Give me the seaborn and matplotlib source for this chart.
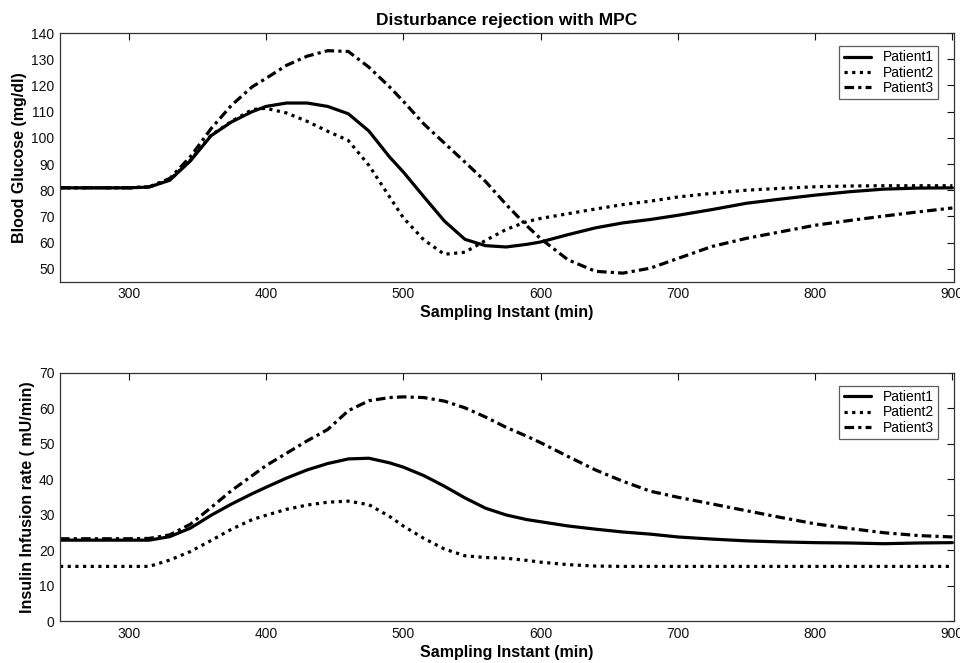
import pandas as pd
import matplotlib
matplotlib.use("Agg")
import matplotlib.pyplot as plt
import seaborn as sns

# sampling instants (min), shared by all series
t = [250, 300, 315, 330, 345, 360, 375, 390, 400, 415, 430, 445, 460, 475, 490,
     500, 515, 530, 545, 560, 575, 590, 600, 620, 640, 660, 680, 700, 725, 750,
     775, 800, 825, 850, 875, 900]

# blood glucose (mg/dl)
bg_p1 = [80.9, 80.9, 81.2, 83.8, 91.2, 100.8, 106.1, 110.0, 112.0, 113.3, 113.3, 112.0,
         109.2, 102.6, 92.7, 87.0, 77.5, 68.2, 61.2, 58.8, 58.3, 59.3, 60.2, 63.0, 65.6,
         67.5, 68.8, 70.4, 72.6, 75.0, 76.6, 78.1, 79.4, 80.4, 80.8, 80.9]
bg_p2 = [80.9, 80.9, 81.2, 84.0, 91.5, 101.0, 106.3, 110.8, 111.3, 109.5, 106.3, 102.5,
         99.0, 89.5, 77.5, 69.5, 61.0, 55.5, 56.3, 60.8, 65.0, 68.0, 69.2, 71.0, 72.8,
         74.5, 75.8, 77.4, 78.8, 80.0, 80.7, 81.3, 81.6, 81.7, 81.7, 81.7]
bg_p3 = [80.9, 80.9, 81.3, 84.5, 92.8, 103.5, 112.5, 119.5, 122.7, 127.7, 131.2, 133.3,
         133.0, 127.0, 119.5, 114.0, 105.3, 98.0, 90.7, 83.3, 74.5, 66.4, 61.5, 53.4, 49.0,
         48.3, 50.2, 53.9, 58.5, 61.6, 64.1, 66.6, 68.4, 70.1, 71.7, 73.2]

# insulin infusion rate (mU/min)
ir_p1 = [22.8, 22.8, 22.8, 23.8, 26.2, 29.8, 33.0, 35.9, 37.7, 40.3, 42.6, 44.4,
         45.7, 45.9, 44.6, 43.4, 41.0, 38.0, 34.7, 31.8, 29.9, 28.6, 28.0, 26.8, 25.9,
         25.1, 24.5, 23.7, 23.1, 22.6, 22.3, 22.1, 22.0, 21.8, 22.0, 22.1]
ir_p2 = [15.4, 15.4, 15.4, 17.2, 19.6, 22.7, 25.9, 28.6, 29.8, 31.5, 32.7, 33.5,
         33.8, 32.8, 29.5, 26.8, 23.3, 20.3, 18.4, 17.9, 17.7, 17.1, 16.6, 15.9, 15.5,
         15.4, 15.4, 15.4, 15.4, 15.4, 15.4, 15.4, 15.4, 15.4, 15.4, 15.4]
ir_p3 = [23.2, 23.2, 23.3, 24.3, 27.3, 32.0, 36.8, 41.0, 43.8, 47.3, 50.8, 54.0,
         59.3, 62.1, 63.0, 63.2, 63.0, 62.0, 60.1, 57.5, 54.6, 52.1, 50.3, 46.4, 42.6,
         39.4, 36.6, 34.9, 33.0, 31.1, 29.2, 27.4, 26.1, 24.9, 24.1, 23.7]

patients = ["Patient1", "Patient2", "Patient3"]
styles = {"Patient1": "",
          "Patient2": (1, 1.4),
          "Patient3": (3, 1.3, 1, 1.3)}

sns.set_style("white")
plt.rcParams["font.family"] = ["Liberation Sans", "DejaVu Sans"]
plt.rcParams["text.color"] = "black"
plt.rcParams["axes.labelcolor"] = "black"

fig = plt.figure(figsize=(9.6, 6.63), dpi=100)
ax1 = fig.add_axes([0.0625, 0.575, 0.931, 0.375])
ax2 = fig.add_axes([0.0625, 0.0633, 0.931, 0.3745])


def draw(ax, series, ylabel, ylim, yticks):
    df = pd.DataFrame({"t": t * 3,
                       "v": series[0] + series[1] + series[2],
                       "Patient": [p for p in patients for _ in t]})
    sns.lineplot(data=df, x="t", y="v", style="Patient", dashes=styles,
                 color="black", linewidth=2.3, ax=ax, legend=True)
    ax.set_xlim(250, 901)
    ax.set_ylim(*ylim)
    ax.set_xticks([300, 400, 500, 600, 700, 800, 900])
    ax.set_yticks(yticks)
    ax.tick_params(direction="in", top=True, right=True, length=5, width=0.8,
                   labelsize=10, colors="#111111", pad=4)
    for s in ax.spines.values():
        s.set_color("#333333")
        s.set_linewidth(0.9)
    ax.set_xlabel("Sampling Instant (min)", fontsize=11.5, fontweight="bold", labelpad=3)
    ax.set_ylabel(ylabel, fontsize=11.5, fontweight="bold", labelpad=3)
    leg = ax.legend(loc="upper right", fontsize=10, frameon=True, fancybox=False,
                    borderpad=0.3, labelspacing=0.1, handlelength=2.0,
                    bbox_to_anchor=(0.99, 0.975))
    leg.get_frame().set_edgecolor("#333333")
    leg.get_frame().set_linewidth(0.9)
    for line in leg.get_lines():
        line.set_linewidth(2.3)


draw(ax1, [bg_p1, bg_p2, bg_p3], "Blood Glucose (mg/dl)", (45, 140),
     [50, 60, 70, 80, 90, 100, 110, 120, 130, 140])
draw(ax2, [ir_p1, ir_p2, ir_p3], "Insulin Infusion rate ( mU/min)", (0, 70),
     [0, 10, 20, 30, 40, 50, 60, 70])
ax1.set_title("Disturbance rejection with MPC", fontsize=12.5, fontweight="bold",
              color="black", pad=6)

fig.savefig("out.png", dpi=100)
